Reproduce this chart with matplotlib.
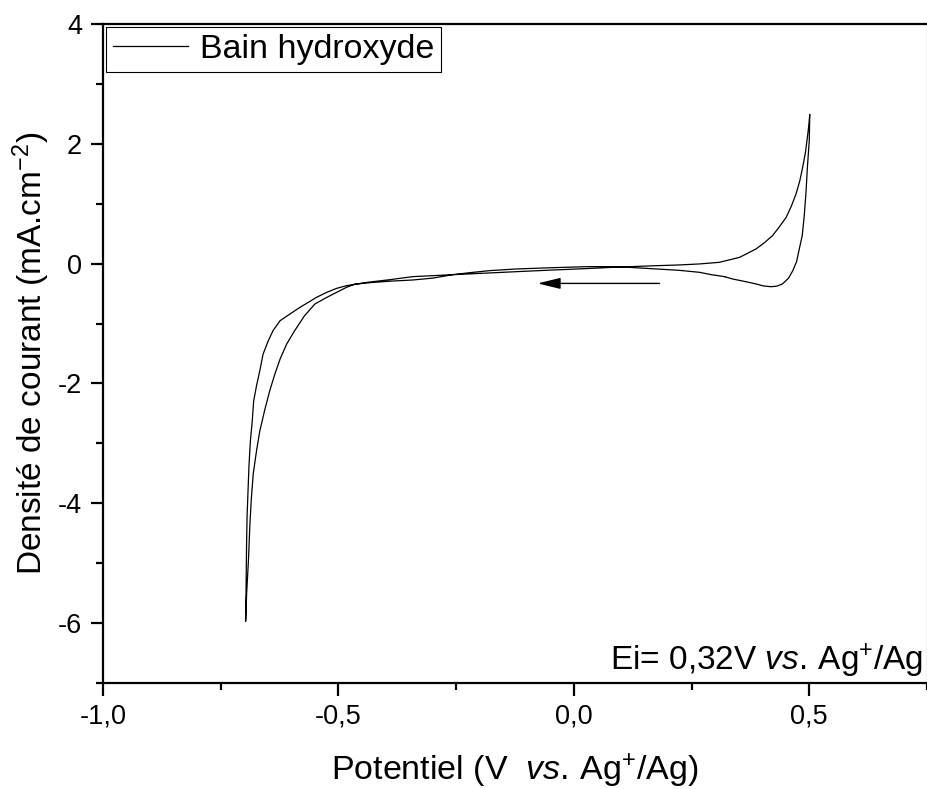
import matplotlib
matplotlib.use("Agg")
import matplotlib.pyplot as plt
from matplotlib.ticker import FixedLocator, MultipleLocator

plt.rcParams['font.family'] = ['Liberation Sans', 'DejaVu Sans']
plt.rcParams['mathtext.fontset'] = 'custom'
plt.rcParams['mathtext.rm'] = 'Liberation Sans'
plt.rcParams['mathtext.it'] = 'Liberation Sans:italic'
plt.rcParams['axes.unicode_minus'] = False

# cyclic voltammogram (one closed loop starting at Ei)
# sweep 1 : Ei -> -0.7 V
e_cath = [0.320, 0.292, 0.267, 0.224, 0.182, 0.139, 0.091, 0.033, -0.009, -0.062,
          -0.122, -0.179, -0.221, -0.257, -0.300, -0.342, -0.391, -0.433, -0.465, -0.483,
          -0.504, -0.525, -0.550, -0.572, -0.593, -0.610, -0.624, -0.635, -0.646, -0.657,
          -0.667, -0.674, -0.681, -0.685, -0.688, -0.691, -0.695, -0.697]
j_cath = [-0.217, -0.184, -0.145, -0.112, -0.092, -0.072, -0.050, -0.050, -0.059, -0.072,
          -0.089, -0.117, -0.151, -0.184, -0.242, -0.273, -0.293, -0.318, -0.343, -0.396,
          -0.480, -0.564, -0.674, -0.870, -1.120, -1.343, -1.594, -1.844, -2.124, -2.458,
          -2.793, -3.127, -3.512, -3.930, -4.348, -4.933, -5.518, -5.970]
# sweep 2 : -0.7 V -> 0.5 V
e_anod = [-0.696, -0.695, -0.694, -0.692, -0.690, -0.687, -0.683, -0.680, -0.674, -0.667,
          -0.660, -0.649, -0.639, -0.624, -0.603, -0.582, -0.564, -0.547, -0.525, -0.504,
          -0.483, -0.440, -0.391, -0.342, -0.300, -0.257, -0.189, -0.122, -0.052, 0.023,
          0.091, 0.161, 0.224, 0.267, 0.309, 0.352, 0.387, 0.405, 0.422, 0.436,
          0.451, 0.462, 0.472, 0.480, 0.486, 0.492, 0.496, 0.499, 0.501]
j_anod = [-5.301, -4.632, -4.214, -3.796, -3.378, -2.960, -2.625, -2.291, -2.040, -1.789,
          -1.510, -1.288, -1.120, -0.953, -0.841, -0.731, -0.647, -0.564, -0.480, -0.413,
          -0.368, -0.313, -0.268, -0.217, -0.201, -0.184, -0.159, -0.134, -0.109, -0.084,
          -0.059, -0.038, -0.022, -0.005, 0.022, 0.105, 0.246, 0.351, 0.468, 0.610,
          0.774, 0.962, 1.166, 1.388, 1.610, 1.865, 2.112, 2.308, 2.492]
# sweep 3 : 0.5 V -> Ei
e_back = [0.500, 0.496, 0.493, 0.489, 0.485, 0.478, 0.473, 0.465, 0.456, 0.443,
          0.431, 0.419, 0.403, 0.387, 0.362, 0.337, 0.320]
j_back = [2.057, 1.610, 1.187, 0.774, 0.468, 0.217, 0.033, -0.117, -0.242, -0.339,
          -0.376, -0.385, -0.373, -0.339, -0.296, -0.256, -0.217]

potential = e_cath + e_anod + e_back
current = j_cath + j_anod + j_back

arrow_from = (0.182, -0.33)
arrow_to = (-0.077, -0.33)

x_ticks = [-1.0, -0.5, 0.0, 0.5]
x_labels = ['-1,0', '-0,5', '0,0', '0,5']
y_ticks = [-6, -4, -2, 0, 2, 4]
y_labels = ['-6', '-4', '-2', '0', '2', '4']

fig = plt.figure(figsize=(9.27, 7.89), dpi=100)
ax = fig.add_axes([103 / 927, 106 / 789, 824 / 927, 659 / 789])

ax.plot(potential, current, color='black', lw=0.9, label='Bain hydroxyde')

ax.annotate('', xy=arrow_to, xytext=arrow_from,
            arrowprops=dict(arrowstyle='-|>,head_length=0.7,head_width=0.17',
                            color='black', lw=1.0, mutation_scale=20,
                            shrinkA=0, shrinkB=0))

ax.set_xlim(-1.0, 0.75)
ax.set_ylim(-7, 4)

ax.xaxis.set_major_locator(FixedLocator(x_ticks))
ax.set_xticklabels(x_labels)
ax.xaxis.set_minor_locator(MultipleLocator(0.25))
ax.yaxis.set_major_locator(FixedLocator(y_ticks))
ax.set_yticklabels(y_labels)
ax.yaxis.set_minor_locator(MultipleLocator(1))

ax.tick_params(which='major', direction='out', length=9, width=1.6, labelsize=19.5, pad=6)
ax.tick_params(which='minor', direction='out', length=5, width=1.6)
ax.tick_params(top=False, right=False, which='both')

for s in ['left', 'bottom', 'top']:
    ax.spines[s].set_linewidth(1.6)
ax.spines['right'].set_color('#bbbbbb')
ax.spines['right'].set_linewidth(1.0)

ax.set_xlabel(r'Potentiel (V  $\mathit{vs.}\,$Ag$^{+}$/Ag)', fontsize=24.5, labelpad=16)
ax.set_ylabel(r'Densité de courant (mA.cm$^{-2}$)', fontsize=24, labelpad=4.5)

ax.text(0.995, 0.02, r'Ei= 0,32V $\mathit{vs.}\,$Ag$^{+}$/Ag', transform=ax.transAxes,
        ha='right', va='baseline', fontsize=24)

leg = ax.legend(loc='upper left', fontsize=24.5, frameon=True, fancybox=False,
                edgecolor='black', framealpha=1, borderaxespad=0.1, borderpad=0.2,
                handlelength=2.2, handletextpad=0.35)
leg.get_frame().set_linewidth(0.8)

fig.savefig('out.png', dpi=100)
